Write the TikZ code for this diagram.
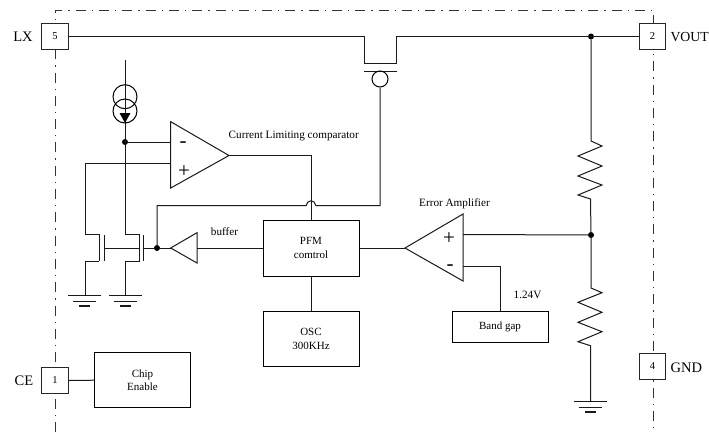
\documentclass[tikz,border=0pt]{standalone}
\usepackage{fontspec}
\setmainfont{Liberation Serif}
\tikzset{
  x=1pt,y=-1pt,
  wire/.style={line width=1pt,line join=miter,black!90},
  frameline/.style={line width=1pt,black!80,dash pattern=on 10pt off 6pt on 1.3pt off 6pt},
  pinbox/.style={draw=black!85,line width=1pt,fill=white,minimum width=26.5pt,minimum height=26.5pt,inner sep=0pt,font=\fontsize{10.5}{12}\selectfont},
  blockbox/.style={draw=black,line width=1pt,fill=white,inner sep=0pt,align=center,font=\fontsize{11}{13.7}\selectfont},
  pinlabel/.style={inner sep=0pt,font=\fontsize{14.5}{16}\selectfont},
  smalllabel/.style={inner sep=0pt,font=\fontsize{11.2}{13}\selectfont},
  signlabel/.style={inner sep=0pt,font=\fontsize{21}{21}\selectfont},
  dot/.style={circle,fill=black,minimum size=6pt,inner sep=0pt},
}
\begin{document}
\begin{tikzpicture}
\useasboundingbox (0,0) rectangle (709,432);
% package frame
\draw[frameline] (55,432) -- (55,10) -- (653.5,10) -- (653.5,432);
% pins and blocks
\node[pinbox] (pinV) at (55,36.5) {5};
\node[pinbox] (pinO) at (652.5,36.5) {2};
\node[pinbox] (pinG) at (652.5,366.5) {4};
\node[pinbox] (pinC) at (55,380.5) {1};
\node[pinlabel] (lx) at (23,37) {LX};
\node[pinlabel,anchor=west,font=\fontsize{13.8}{16}\selectfont] (vout) at (670.3,37.5) {VOUT};
\node[pinlabel,anchor=west] (gnd) at (670.5,368) {GND};
\node[pinlabel] (ce) at (24,381) {CE};
\node[blockbox,minimum width=96pt,minimum height=55.5pt] (chip) at (142.5,380.2) {Chip\\Enable};
\node[blockbox,minimum width=96pt,minimum height=56pt] (pfm) at (311,248) {PFM\\comtrol};
\node[blockbox,minimum width=96pt,minimum height=55pt] (osc) at (311,339.2) {OSC\\300KHz};
\node[blockbox,minimum width=96pt,minimum height=31pt] (band) at (500,327.2) {Band gap};
% junctions
\node[dot] (jtop) at (591,36.5) {};
\node[dot] (jmid) at (591,235) {};
\node[dot] (jcomp) at (125,142) {};
\node[dot] (jbuf) at (157,248) {};
% chip enable
\draw[wire] (pinC.east) -- (chip.west);
% pass transistor
\draw[wire] (pinV.east) -- (364,36.5) -- (364,63) -- (396,63) -- (396,36.5) -- (pinO.west);
\draw[wire] (364,71) -- (397,71);
\node[draw,circle,line width=1pt,minimum size=16pt,inner sep=0pt] (pgate) at (380,79) {};
% feedback divider
\draw[wire] (jtop) -- (591,141) -- (602,146) -- (578,156) -- (602,166) -- (578,176) -- (602,185) -- (578,195) -- (590.5,199) -- (jmid);
\draw[wire] (jmid) -- (591,288) -- (602,292.7) -- (578,302.3) -- (602,312.3) -- (578,322.3) -- (602,331.7) -- (578,341.7) -- (590.5,345.7) -- (590.5,401) coordinate (gr);
\draw[wire] (574,401) -- (607,401) (579,407) -- (602,407);
\draw[wire,line width=1.4pt] (585,412) -- (596,412);
% error amplifier
\node[inner sep=0pt,minimum size=0pt] (eaApex) at (405,248) {};
\draw[wire,fill=white] (405,248) -- (463,214) -- (463,281) -- cycle;
\coordinate (eaPlus) at (463,234.5);
\coordinate (eaMinus) at (463,266.3);
\draw[wire] (eaPlus) -- (jmid);
\draw[wire] (eaMinus) -- (500,266.3) -- (band.north);
\draw[wire] (pfm.east) -- (eaApex);
\node[signlabel] (eaP) at (449,239) {+};
\node[signlabel] (eaM) at (450,268) {-};
\node[smalllabel] (ealabel) at (454.5,204) {Error Amplifier};
\node[smalllabel] (vlabel) at (527.5,295) {1.24V};
% osc
\draw[wire] (pfm.south) -- (osc.north);
% comparator
\draw[wire] (170.7,121.7) -- (229,155.5) -- (170.7,188) -- cycle;
\coordinate (cmpOut) at (229,155.5);
\draw[wire] (jcomp) -- (170.7,142);
\draw[wire] (85,163.7) -- (170.7,163.7);
\draw[wire] (cmpOut) -- (311,155.5) -- (pfm.north);
\node[signlabel] (cmpM) at (183,145) {-};
\node[signlabel] (cmpP) at (184,172) {+};
\node[smalllabel,anchor=west] (cmplabel) at (228.5,135.5) {Current Limiting comparator};
% feedback to gate with jump
\draw[wire] (pgate.south) -- (380,205.5) -- (315.7,205.5) arc[start angle=0,end angle=-180,radius=4.7] -- (157,205.5) -- (jbuf);
% buffer
\draw[wire] (170.7,248) -- (197,232.7) -- (197,263) -- cycle;
\draw[wire] (pfm.west) -- (197,248);
\draw[wire] (jbuf) -- (170.7,248);
\draw[wire] (jbuf) -- (143.5,248);
\node[smalllabel] (buflabel) at (224.5,232) {buffer};
% current source
\draw[wire] (125,60) -- (125,234);
\node[draw,circle,line width=1pt,minimum size=24pt,inner sep=0pt] (cs1) at (125,96.7) {};
\node[draw,circle,line width=1pt,minimum size=24pt,inner sep=0pt] (cs2) at (125,111) {};
\draw[wire] (125,84.7) -- (125,113);
\fill[black] (119.5,113) -- (130.5,113) -- (125,123) -- cycle;
% mirror transistors
\draw[wire] (85,163.7) -- (85,234) -- (99,234);
\draw[wire] (99,234) -- (99,261);
\draw[wire] (99,261) -- (85,261) -- (85,295);
\draw[wire] (104,235) -- (104,261);
\draw[wire] (104,248) -- (139,248);
\draw[wire] (125,234) -- (139,234) -- (139,261) -- (125,261) -- (125,295);
\draw[wire] (143.5,235) -- (143.5,261);
% grounds
\draw[wire] (68,295) -- (101,295) (73,301) -- (96,301);
\draw[wire,line width=1.4pt] (79,306) -- (90,306);
\draw[wire] (109,295) -- (142,295) (114,301) -- (137,301);
\draw[wire,line width=1.4pt] (120,306) -- (131,306);
\end{tikzpicture}
\end{document}
